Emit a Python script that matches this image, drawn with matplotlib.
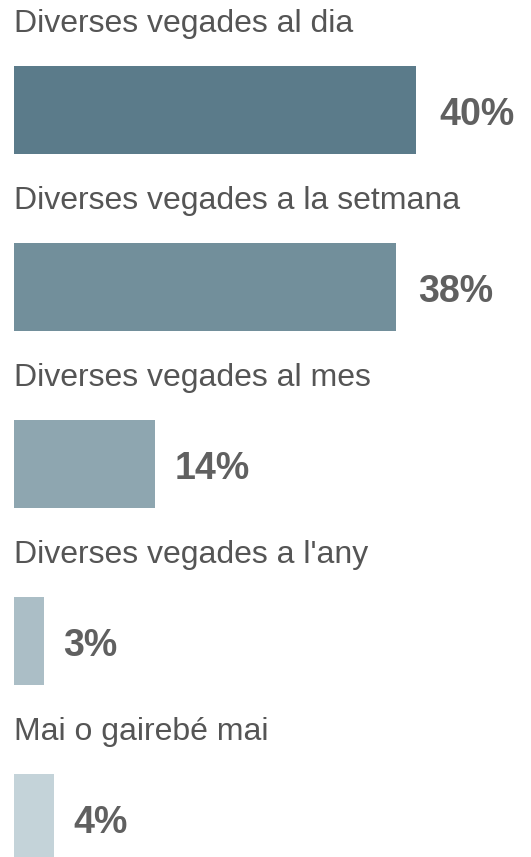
import matplotlib
matplotlib.use("Agg")
from matplotlib import pyplot as plt

# survey answers, top to bottom
categories = [
  "Diverses vegades al dia",
  "Diverses vegades a la setmana",
  "Diverses vegades al mes",
  "Diverses vegades a l'any",
  "Mai o gairebé mai",
]
values = [40, 38, 14, 3, 4]
bar_colors = ["#5b7b8a", "#728f9b", "#8ea6b0", "#abbec6", "#c4d3d9"]

plt.rcParams["font.family"] = ["Liberation Sans", "DejaVu Sans"]

W, H = 531, 857
fig = plt.figure(figsize=(W / 100, H / 100), dpi=100)
left = 14 / W
ax = fig.add_axes([left, 0, 1 - left, 1])

px_per_unit = 10.05  # pixels per percentage point
row_px = 177         # pixels between rows
ax.set_xlim(0, (W - 14) / px_per_unit)
ax.set_ylim((H - 110) / row_px, -110 / row_px)
ax.axis("off")

rows = list(range(len(categories)))
ax.barh(rows, values, height=88 / row_px, color=bar_colors, edgecolor="none")

for i, (cat, v) in enumerate(zip(categories, values)):
  ax.text(0, i - 78 / row_px, cat, fontsize=23, color="#555555",
          ha="left", va="baseline")
  # value label sits a little past the bar end
  lx = v * 10.16 / px_per_unit + 18.5 / px_per_unit
  ax.text(lx, i + 15.5 / row_px, f"{v}%", fontsize=27,
          fontweight="bold", color="#606060", ha="left", va="baseline")

fig.savefig("out.png", dpi=100)
